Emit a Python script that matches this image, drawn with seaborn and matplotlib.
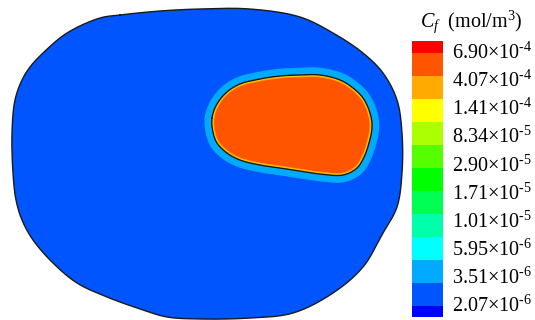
import numpy as np
import matplotlib
matplotlib.use("Agg")
import matplotlib.pyplot as plt
from matplotlib.colors import ListedColormap
from matplotlib.patches import PathPatch
from matplotlib.path import Path
import seaborn as sns

# Domain outline (pixel space, y downward)
outer_x = [120, 160, 200, 250, 300, 333, 363, 383, 397, 402, 402, 397, 383, 363, 333, 293,
           250, 200, 167, 143, 107, 77, 53, 33, 22, 16, 13, 12, 15, 22, 30, 43, 67, 100]
outer_y = [15, 11, 9, 9, 17, 33, 53, 73, 100, 133, 173, 207, 233, 267, 293, 313,
           318, 319, 317, 310, 297, 283, 263, 240, 220, 200, 173, 133, 100, 80, 67, 53, 33, 18]

# High-concentration core outline
core_x = [212, 213, 217, 227, 240, 260, 280, 300, 320, 343, 357, 364, 369, 372,
          370, 363, 353, 340, 320, 300, 280, 260, 240, 227, 217]
core_y = [118, 132, 143, 153, 160, 165, 168, 171, 174, 175, 168, 157, 143, 127,
          113, 98, 88, 80, 75, 75, 76, 79, 84, 92, 104]

# Contour levels and colours
level_labels = ["6.90", "4.07", "1.41", "8.34", "2.90", "1.71", "1.01", "5.95", "3.51", "2.07"]
level_exps = ["-4", "-4", "-4", "-5", "-5", "-5", "-5", "-6", "-6", "-6"]
level_colors = ["#FF0000", "#FF5500", "#FFAA00", "#FFFF00", "#AAFF00", "#55FF00", "#00FF00",
                "#00FF55", "#00FFAA", "#00FFFF", "#00AAFF", "#0055FF", "#0000FF"]

sns.set_theme(style="white")
plt.rcParams["font.family"] = ["Liberation Serif", "DejaVu Serif"]
plt.rcParams["mathtext.fontset"] = "custom"
plt.rcParams["mathtext.rm"] = "Liberation Serif"
plt.rcParams["mathtext.it"] = "Liberation Serif:italic"


def smooth_closed(x, y, n=20, alpha=0.5):
    """Centripetal Catmull-Rom curve through a closed ring of points."""
    p = np.column_stack([x, y]).astype(float)
    m = len(p)
    out = []
    for i in range(m):
        P0, P1, P2, P3 = p[i - 1], p[i], p[(i + 1) % m], p[(i + 2) % m]
        t0 = 0.0
        t1 = t0 + np.linalg.norm(P1 - P0) ** alpha
        t2 = t1 + np.linalg.norm(P2 - P1) ** alpha
        t3 = t2 + np.linalg.norm(P3 - P2) ** alpha
        t = np.linspace(t1, t2, n, endpoint=False)[:, None]
        A1 = (t1 - t) / (t1 - t0) * P0 + (t - t0) / (t1 - t0) * P1
        A2 = (t2 - t) / (t2 - t1) * P1 + (t - t1) / (t2 - t1) * P2
        A3 = (t3 - t) / (t3 - t2) * P2 + (t - t2) / (t3 - t2) * P3
        B1 = (t2 - t) / (t2 - t0) * A1 + (t - t0) / (t2 - t0) * A2
        B2 = (t3 - t) / (t3 - t1) * A2 + (t - t1) / (t3 - t1) * A3
        out.append((t2 - t) / (t2 - t1) * B1 + (t - t1) / (t2 - t1) * B2)
    out = np.vstack(out)
    return np.vstack([out, out[:1]])


W, H = 535, 320
fig = plt.figure(figsize=(W / 100, H / 100), dpi=100)
ax = fig.add_axes([0, 0, 1, 1])
ax.set_xlim(0, W)
ax.set_ylim(H, 0)
ax.axis("off")

outer = smooth_closed(outer_x, outer_y)
core = smooth_closed(core_x, core_y)

outer_patch = PathPatch(Path(outer, closed=True), facecolor=level_colors[11],
                        edgecolor="none", zorder=1)
ax.add_patch(outer_patch)

# halo band around the core
ax.plot(core[:, 0], core[:, 1], color=level_colors[10], lw=10.5,
        solid_joinstyle="round", solid_capstyle="round", zorder=2)

core_patch = PathPatch(Path(core, closed=True), facecolor=level_colors[1],
                       edgecolor="none", zorder=3)
ax.add_patch(core_patch)
ring_o, = ax.plot(core[:, 0], core[:, 1], color="#FFA500", lw=3.4, zorder=4)
ring_o.set_clip_path(core_patch)
ring_y, = ax.plot(core[:, 0], core[:, 1], color="#FFD200", lw=2.0, zorder=4.5)
ring_y.set_clip_path(core_patch)
ax.plot(core[:, 0], core[:, 1], color="#1a1a1a", lw=1.0, zorder=5)

ax.plot(outer[:, 0], outer[:, 1], color="#1a1a1a", lw=1.0, zorder=6)

# Colour legend
cb_left, cb_right, cb_top, cb_bot = 412, 443, 41, 317
cax = fig.add_axes([cb_left / W, 1 - cb_bot / H, (cb_right - cb_left) / W, (cb_bot - cb_top) / H])
idx = [0] + [i for i in range(1, 12) for _ in range(2)] + [12]
sns.heatmap(np.array(idx)[:, None], cmap=ListedColormap(level_colors), vmin=-0.5, vmax=12.5,
            cbar=False, ax=cax, xticklabels=False, yticklabels=False)
cax.axis("off")

unit = (cb_bot - cb_top) / 12
for k, (lab, ex) in enumerate(zip(level_labels, level_exps)):
    yc = cb_top + unit * (0.5 + k * 11 / 9)
    fig.text(452 / W, 1 - (yc + 6.4) / H, lab + "×10" + r"$^{\text{" + ex + "}}$",
             fontsize=14.5, va="baseline", ha="left", color="black")

fig.text(420 / W, 1 - 27 / H, r"$C_f$" + "  (mol/m" + r"$^{\text{3}}$" + ")",
         fontsize=14.5, va="baseline", ha="left", color="black")

fig.savefig("out.png", dpi=100)
